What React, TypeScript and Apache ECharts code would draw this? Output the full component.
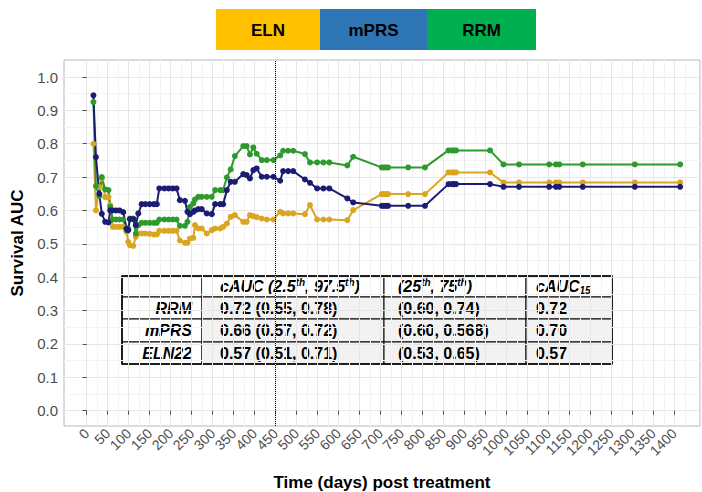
import React, { useEffect, useRef } from "react";
import * as echarts from "echarts";

const days = [16, 22, 30, 36, 44, 52, 56, 62, 70, 78, 87, 95, 99, 103, 111, 117, 123, 131, 140, 150, 160, 167, 173, 185, 195, 205, 214, 222, 234, 240, 246, 254, 258, 266, 274, 286, 298, 306, 318, 325, 334, 343, 353, 373, 381, 389, 397, 405, 417, 429, 445, 461, 468, 480, 492, 520, 532, 549, 564, 578, 621, 635, 703, 708, 713, 718, 766, 806, 862, 870, 875, 880, 961, 993, 1030, 1102, 1118, 1126, 1182, 1306, 1414];

const eln = [0.80, 0.60, 0.67, 0.695, 0.64, 0.64, 0.616, 0.551, 0.551, 0.551, 0.551, 0.536, 0.506, 0.496, 0.494, 0.521, 0.531, 0.531, 0.531, 0.530, 0.528, 0.528, 0.539, 0.539, 0.539, 0.539, 0.539, 0.510, 0.503, 0.503, 0.516, 0.518, 0.556, 0.546, 0.546, 0.531, 0.541, 0.546, 0.546, 0.551, 0.561, 0.581, 0.586, 0.566, 0.566, 0.586, 0.583, 0.580, 0.576, 0.573, 0.573, 0.596, 0.591, 0.591, 0.591, 0.589, 0.616, 0.573, 0.573, 0.573, 0.571, 0.601, 0.649, 0.649, 0.649, 0.649, 0.649, 0.649, 0.714, 0.714, 0.714, 0.714, 0.714, 0.684, 0.684, 0.684, 0.684, 0.684, 0.684, 0.684, 0.684];

const mprs = [0.945, 0.76, 0.65, 0.59, 0.566, 0.564, 0.60, 0.60, 0.60, 0.60, 0.595, 0.546, 0.541, 0.574, 0.574, 0.556, 0.591, 0.619, 0.619, 0.619, 0.619, 0.619, 0.666, 0.666, 0.666, 0.666, 0.666, 0.631, 0.629, 0.596, 0.589, 0.596, 0.600, 0.604, 0.604, 0.591, 0.589, 0.619, 0.619, 0.619, 0.661, 0.686, 0.686, 0.709, 0.706, 0.696, 0.721, 0.726, 0.701, 0.701, 0.701, 0.689, 0.718, 0.718, 0.718, 0.693, 0.683, 0.666, 0.666, 0.666, 0.636, 0.624, 0.614, 0.614, 0.614, 0.614, 0.614, 0.614, 0.679, 0.679, 0.679, 0.679, 0.679, 0.671, 0.671, 0.671, 0.671, 0.671, 0.671, 0.671, 0.671];

const rrm = [0.925, 0.673, 0.643, 0.70, 0.663, 0.661, 0.611, 0.573, 0.573, 0.573, 0.573, 0.541, 0.545, 0.576, 0.576, 0.531, 0.556, 0.563, 0.563, 0.563, 0.563, 0.563, 0.573, 0.573, 0.573, 0.573, 0.573, 0.554, 0.554, 0.566, 0.611, 0.621, 0.633, 0.641, 0.641, 0.641, 0.641, 0.661, 0.661, 0.661, 0.699, 0.723, 0.763, 0.793, 0.793, 0.768, 0.789, 0.770, 0.751, 0.751, 0.751, 0.765, 0.779, 0.779, 0.779, 0.769, 0.744, 0.744, 0.744, 0.744, 0.735, 0.761, 0.729, 0.729, 0.729, 0.729, 0.729, 0.729, 0.780, 0.780, 0.780, 0.780, 0.780, 0.738, 0.738, 0.738, 0.738, 0.738, 0.738, 0.738, 0.738];

const xTicks = [0, 50, 100, 150, 200, 250, 300, 350, 400, 450, 500, 550, 600, 650, 700, 750, 800, 850, 900, 950, 1000, 1050, 1100, 1150, 1200, 1250, 1300, 1350, 1400];
const xMinor = [25, 75, 125, 175, 225, 275, 325, 375, 425, 475, 525, 575, 625, 675, 725, 775, 825, 875, 925, 975, 1025, 1075, 1125, 1175, 1225, 1275, 1325, 1375, 1425];
const yTicks = [0, 0.1, 0.2, 0.3, 0.4, 0.5, 0.6, 0.7, 0.8, 0.9, 1.0];
const yMinor = [0.05, 0.15, 0.25, 0.35, 0.45, 0.55, 0.65, 0.75, 0.85, 0.95];

const cutoffDay = 450;

const legendNames = ["ELN", "mPRS", "RRM"];
const legendColors = ["#FFC000", "#2E75B6", "#00B050"];

const tableRowLabels = ["RRM", "mPRS", "ELN22"];
const tableCol1 = ["0.72 (0.55, 0.78)", "0.66 (0.57, 0.72)", "0.57 (0.51, 0.71)"];
const tableCol2 = ["(0.60, 0.74)", "(0.60, 0.568)", "(0.53, 0.65)"];
const tableCol3 = ["0.72", "0.70", "0.57"];

const FONT = "'Liberation Sans', Arial, Helvetica, sans-serif";

function txt(x: number, y: number, style: any) {
  return { type: "text", x, y, style };
}

function buildTable() {
  const colX = [122, 202, 384, 526, 612];
  const rowY = [276, 297, 319, 342, 364];
  const children: any[] = [];
  for (let r = 0; r < 4; r++) {
    for (let c = 0; c < 4; c++) {
      const gray = r > 0 && c > 0;
      children.push({
        type: "rect",
        shape: { x: colX[c], y: rowY[r], width: colX[c + 1] - colX[c], height: rowY[r + 1] - rowY[r] },
        style: { fill: gray ? "#F2F2F2" : "#FFFFFF", stroke: "#000000", lineWidth: 1 },
      });
    }
  }
  children.push({
    type: "rect",
    shape: { x: colX[0], y: rowY[0], width: colX[4] - colX[0], height: rowY[4] - rowY[0] },
    style: { fill: "none", stroke: "#000000", lineWidth: 1.5 },
  });
  const FS = 16;
  const base = { fontFamily: FONT, fontSize: FS, fontWeight: "bold", fill: "#000" };
  const hb = { fontFamily: FONT, fontSize: FS, fontWeight: "bold", fontStyle: "italic", fill: "#000" };
  const sup = { fontFamily: FONT, fontSize: 10, fontWeight: "bold", fontStyle: "italic", fill: "#000", verticalAlign: "top", lineHeight: 18 };
  const sub = { fontFamily: FONT, fontSize: 10, fontWeight: "bold", fontStyle: "italic", fill: "#000", verticalAlign: "bottom", lineHeight: 18 };
  const hcy = (rowY[0] + rowY[1]) / 2;
  children.push(txt(colX[1] + 18, hcy, {
    text: "{h|cAUC (2.5}{s|th}{h|, 97.5}{s|th}{h|)}",
    rich: { h: { ...hb, lineHeight: 18 }, s: sup },
    align: "left",
    verticalAlign: "middle",
  }));
  children.push(txt(colX[2] + 14, hcy, {
    text: "{h|(25}{s|th}{h|, 75}{s|th}{h|)}",
    rich: { h: { ...hb, lineHeight: 18 }, s: sup },
    align: "left",
    verticalAlign: "middle",
  }));
  children.push(txt(colX[3] + 10, hcy, {
    text: "{h|cAUC}{d|15}",
    rich: { h: { ...hb, lineHeight: 18 }, d: sub },
    align: "left",
    verticalAlign: "middle",
  }));
  for (let i = 0; i < 3; i++) {
    const cy = (rowY[i + 1] + rowY[i + 2]) / 2;
    children.push(txt(colX[1] - 10, cy, { text: tableRowLabels[i], ...hb, align: "right", verticalAlign: "middle" }));
    children.push(txt(colX[1] + 18, cy, { text: tableCol1[i], ...base, align: "left", verticalAlign: "middle" }));
    children.push(txt(colX[2] + 14, cy, { text: tableCol2[i], ...base, align: "left", verticalAlign: "middle" }));
    children.push(txt(colX[3] + 10, cy, { text: tableCol3[i], ...base, align: "left", verticalAlign: "middle" }));
  }
  return { type: "group", z: 100, children };
}

function buildLegend() {
  const edges = [216, 320, 427, 536];
  const children: any[] = [];
  for (let i = 0; i < 3; i++) {
    children.push({
      type: "rect",
      shape: { x: edges[i], y: 9, width: edges[i + 1] - edges[i], height: 41 },
      style: { fill: legendColors[i] },
    });
    children.push(txt((edges[i] + edges[i + 1]) / 2, 30, {
      text: legendNames[i],
      fontFamily: FONT,
      fontSize: 17,
      fontWeight: "bold",
      fill: "#000",
      align: "center",
      verticalAlign: "middle",
    }));
  }
  return { type: "group", children };
}

export default function App() {
  const ref = useRef<HTMLDivElement>(null);
  useEffect(() => {
    if (!ref.current) return;
    const chart = echarts.init(ref.current, null, { renderer: "svg" });
    const xMin = -54.1;
    const xMax = 1461.3;
    const yMin = -0.046;
    const yMax = 1.051;
    const mk = (name: string, vals: number[], color: string) => ({
      name,
      type: "line",
      xAxisIndex: 0,
      yAxisIndex: 0,
      data: days.map((d, i) => [d, vals[i]]),
      symbol: "circle",
      symbolSize: 6,
      showSymbol: true,
      lineStyle: { color, width: 2 },
      itemStyle: { color },
      z: 3,
    });
    const option: any = {
      animation: false,
      backgroundColor: "#FFFFFF",
      textStyle: { fontFamily: FONT },
      grid: {
        left: 64,
        right: 2,
        top: 60,
        bottom: 66,
        containLabel: false,
        outerBoundsMode: "none",
        show: true,
        borderColor: "#B8B8B8",
        borderWidth: 1,
        backgroundColor: "transparent",
      },
      xAxis: [
        {
          type: "value",
          min: xMin,
          max: xMax,
          name: "Time (days) post treatment",
          nameLocation: "middle",
          nameGap: 48,
          nameTextStyle: { fontFamily: FONT, fontSize: 17, fontWeight: "bold", color: "#000" },
          axisLine: { show: false },
          axisTick: { show: true, customValues: xTicks, length: 4, lineStyle: { color: "#4D4D4D" } },
          axisLabel: {
            customValues: xTicks,
            rotate: 45,
            fontSize: 14,
            color: "#4D4D4D",
            fontFamily: FONT,
            margin: 5,
            formatter: (v: number) => String(v),
          },
          splitLine: { show: true, lineStyle: { color: "#E6E6E6", width: 1 } },
        },
        {
          type: "value",
          min: xMin,
          max: xMax,
          position: "bottom",
          axisLine: { show: false },
          axisTick: { show: false, customValues: xMinor },
          axisLabel: { show: false, customValues: xMinor },
          splitLine: { show: true, lineStyle: { color: "#F3F3F3", width: 1 } },
        },
      ],
      yAxis: [
        {
          type: "value",
          min: yMin,
          max: yMax,
          name: "Survival AUC",
          nameLocation: "middle",
          nameGap: 29,
          nameTextStyle: { fontFamily: FONT, fontSize: 17, fontWeight: "bold", color: "#000" },
          axisLine: { show: false },
          axisTick: { show: true, customValues: yTicks, length: 4, lineStyle: { color: "#4D4D4D" } },
          axisLabel: {
            customValues: yTicks,
            fontSize: 15,
            color: "#4D4D4D",
            fontFamily: FONT,
            margin: 6,
            formatter: (v: number) => v.toFixed(1),
          },
          splitLine: { show: true, lineStyle: { color: "#E6E6E6", width: 1 } },
        },
        {
          type: "value",
          min: yMin,
          max: yMax,
          position: "left",
          axisLine: { show: false },
          axisTick: { show: false, customValues: yMinor },
          axisLabel: { show: false, customValues: yMinor },
          splitLine: { show: true, lineStyle: { color: "#F3F3F3", width: 1 } },
        },
      ],
      graphic: [buildLegend(), buildTable()],
      series: [
        mk("ELN22", eln, "#DAA520"),
        mk("RRM", rrm, "#2E9A2E"),
        mk("mPRS", mprs, "#1C1C73"),
        {
          name: "cutoff",
          type: "line",
          data: [],
          xAxisIndex: 0,
          yAxisIndex: 0,
          z: 101,
          markLine: {
            silent: true,
            symbol: "none",
            label: { show: false },
            lineStyle: { color: "#000", type: "dotted", width: 1 },
            data: [{ xAxis: cutoffDay }],
          },
        },
      ],
    };
    chart.setOption(option);
    return () => chart.dispose();
  }, []);
  return <div ref={ref} style={{ position: "fixed", left: 0, top: 0, width: 702, height: 492 }} />;
}
